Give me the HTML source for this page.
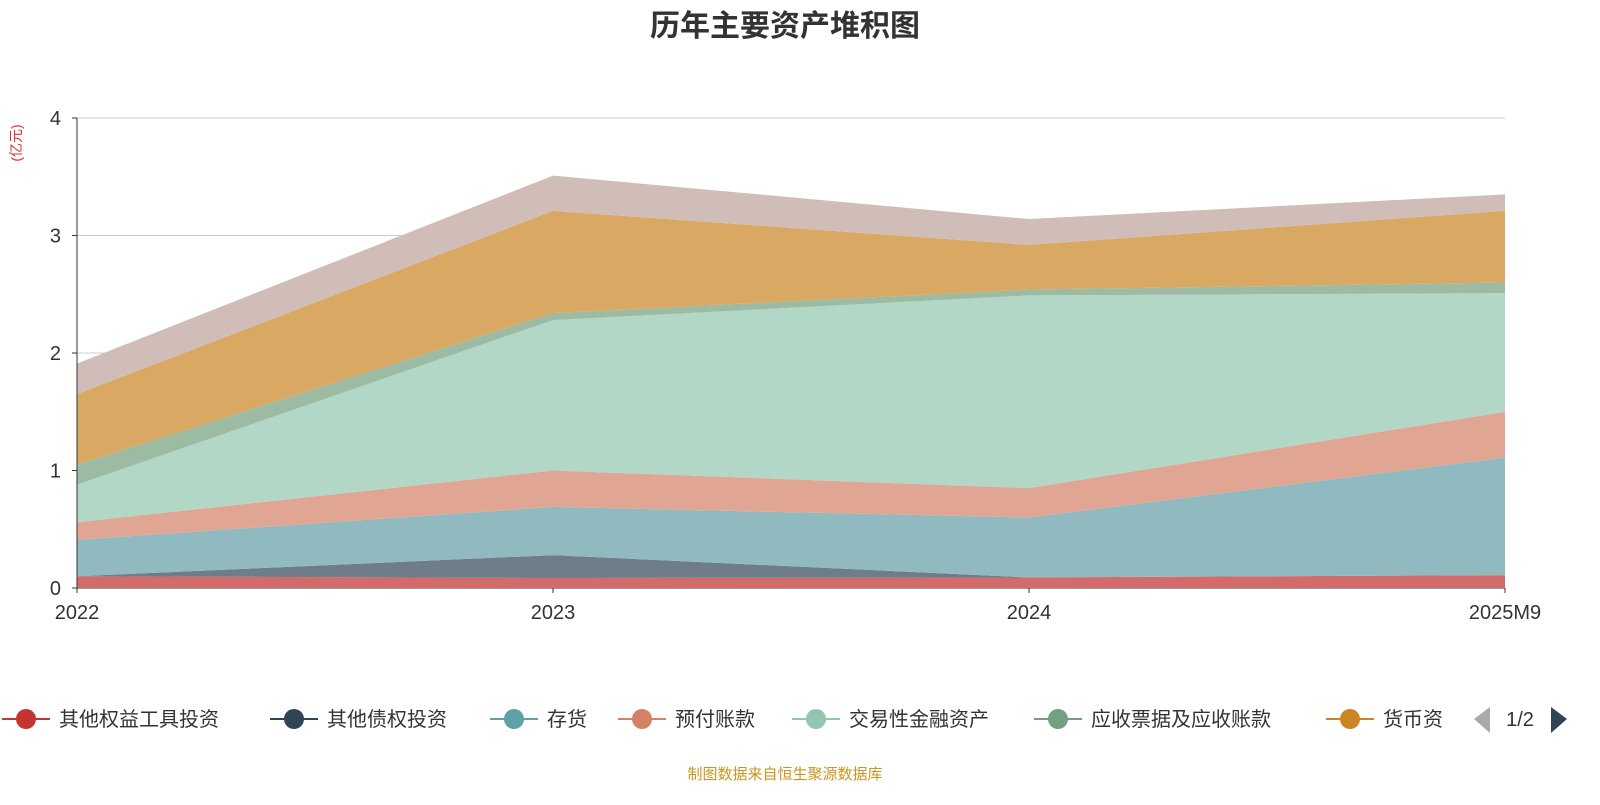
<!DOCTYPE html>
<html><head><meta charset="utf-8">
<style>
body{margin:0;background:#fff;font-family:"Liberation Sans","Noto Sans CJK SC",sans-serif;}
svg text{font-family:"Liberation Sans","Noto Sans CJK SC",sans-serif;}
</style></head>
<body>
<svg id="chart" width="1600" height="800">
<text x="785" y="36" text-anchor="middle" font-size="30" font-weight="bold" fill="#333">历年主要资产堆积图</text>
<text x="0" y="0" transform="translate(21,143) rotate(-90)" text-anchor="middle" font-size="14" fill="#e03030">(亿元)</text>
<g id="grid"></g>
<g id="areas"></g>
<g id="axes"></g>
<g id="legend"></g>
<text x="785" y="779" text-anchor="middle" font-size="15" fill="#c8961e">制图数据来自恒生聚源数据库</text>
</svg>
<script>
const categories=["2022","2023","2024","2025M9"];
const seriesNames=["其他权益工具投资","其他债权投资","存货","预付账款","交易性金融资产","应收票据及应收账款","货币资金","其他"];
const equityInv=[0.10,0.085,0.09,0.11];
const debtInv=[0,0.195,0,0];
const inventory=[0.31,0.41,0.51,1.00];
const prepaid=[0.15,0.31,0.25,0.39];
const tradingAssets=[0.32,1.28,1.64,1.01];
const receivables=[0.17,0.06,0.05,0.09];
const cash=[0.60,0.87,0.38,0.61];
const other=[0.26,0.30,0.22,0.14];
const yTicks=[0,1,2,3,4];
const seriesData=[equityInv,debtInv,inventory,prepaid,tradingAssets,receivables,cash,other];
const colors=["#c23531","#2f4554","#61a0a8","#d48265","#91c7ae","#749f83","#ca8622","#bda29a"];
const fills=["#d46b6b","#6e7d88","#91bac0","#e0a693","#b2d7c6","#9dbaa3","#d9a862","#d0bdb8"];
const NS="http://www.w3.org/2000/svg";
const X0=77,X1=1505,Y0=588,Y1=118,YMAX=4;
const xs=i=>X0+(X1-X0)*i/(categories.length-1);
const ys=v=>Y0-(Y0-Y1)*v/YMAX;
function mk(tag,attrs,parent){const e=document.createElementNS(NS,tag);for(const k in attrs)e.setAttribute(k,attrs[k]);parent.appendChild(e);return e;}
const grid=document.getElementById('grid'),areas=document.getElementById('areas'),axes=document.getElementById('axes'),legend=document.getElementById('legend');
yTicks.forEach(t=>{
 const l=mk('line',{x1:X0,x2:X1,y1:ys(t),y2:ys(t),stroke:t===0?'#333':'#ccc','stroke-width':1},grid);
 
 
 const tx=mk('text',{x:X0-16,y:ys(t)+7,'text-anchor':'end','font-size':20,fill:'#333'},axes);
 tx.textContent=t;
 
 
 const tk=mk('line',{x1:X0-5,x2:X0,y1:ys(t),y2:ys(t),stroke:'#333'},axes);
 
 
});
const yl=mk('line',{x1:X0,x2:X0,y1:Y1,y2:Y0,stroke:'#333'},axes);


categories.forEach((c,i)=>{
 const tx=mk('text',{x:xs(i),y:Y0+31,'text-anchor':'middle','font-size':20,fill:'#333'},axes);
 tx.textContent=c;
 
 
 const tk=mk('line',{x1:xs(i),x2:xs(i),y1:Y0,y2:Y0+5,stroke:'#333'},axes);
 
 
});
let base=categories.map(()=>0);
seriesData.forEach((d,s)=>{
 const top=base.map((b,i)=>b+d[i]);
 let pts=top.map((v,i)=>xs(i)+','+ys(v));
 for(let i=categories.length-1;i>=0;i--)pts.push(xs(i)+','+ys(base[i]));
 const p=mk('polygon',{points:pts.join(' '),fill:fills[s],stroke:'none'},areas);
 
 
 base=top;
});
const legendX=[0,268,488,616,790,1032,1324];
const legendW=["其他权益工具投资","其他债权投资","存货","预付账款","交易性金融资产","应收票据及应收账款","货币资"];
legendX.forEach((lx,i)=>{
 const g=mk('g',{},legend);
 
 
 mk('line',{x1:lx+2,x2:lx+50,y1:719,y2:719,stroke:colors[i],'stroke-width':2},g);
 mk('circle',{cx:lx+26,cy:719,r:10,fill:colors[i]},g);
 const t=mk('text',{x:lx+59,y:726,'font-size':20,fill:'#333'},g);
 t.textContent=legendW[i];
});
const pl=mk('polygon',{points:'1490,707 1474,719 1490,733',fill:'#aaa'},legend);


const pt=mk('text',{x:1520,y:726,'text-anchor':'middle','font-size':20,fill:'#333'},legend);
pt.textContent='1/2';


const pn=mk('polygon',{points:'1551,707 1567,719 1551,733',fill:'#2f4554'},legend);


</script>
</body></html>
